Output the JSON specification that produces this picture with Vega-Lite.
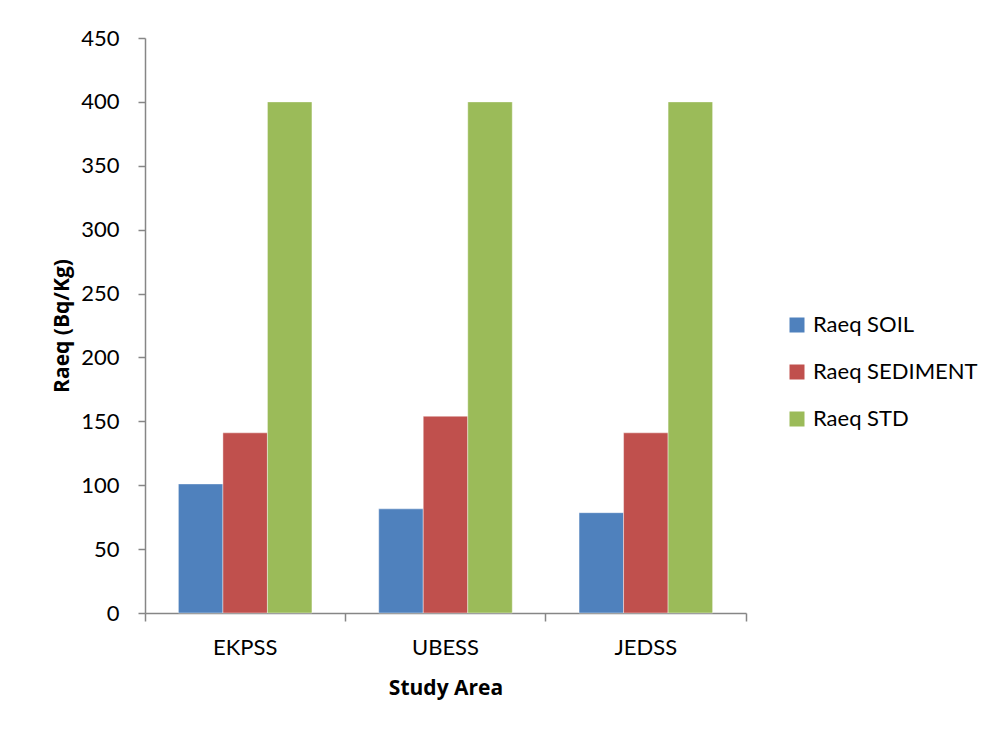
{
  "$schema": "https://vega.github.io/schema/vega-lite/v6.json",
  "width": 601,
  "height": 575,
  "autosize": {"type": "none"},
  "padding": {"left": 145, "top": 38, "right": 256, "bottom": 121},
  "background": "white",
  "config": {
    "font": "Lato",
    "view": {"stroke": null},
    "axis": {"labelColor": "black", "titleColor": "black", "domainColor": "#868686", "tickColor": "#868686", "domainWidth": 1.5, "tickWidth": 1.5}
  },
  "data": {
    "values": [
      {"area": "EKPSS", "series": "Raeq SOIL", "value": 101},
      {"area": "EKPSS", "series": "Raeq SEDIMENT", "value": 141},
      {"area": "EKPSS", "series": "Raeq STD", "value": 400},
      {"area": "UBESS", "series": "Raeq SOIL", "value": 81.5},
      {"area": "UBESS", "series": "Raeq SEDIMENT", "value": 154},
      {"area": "UBESS", "series": "Raeq STD", "value": 400},
      {"area": "JEDSS", "series": "Raeq SOIL", "value": 78.5},
      {"area": "JEDSS", "series": "Raeq SEDIMENT", "value": 141},
      {"area": "JEDSS", "series": "Raeq STD", "value": 400}
    ]
  },
  "mark": {"type": "bar", "stroke": "white", "strokeWidth": 0.6, "strokeOpacity": 0.7},
  "encoding": {
    "x": {
      "field": "area",
      "type": "nominal",
      "sort": ["EKPSS", "UBESS", "JEDSS"],
      "scale": {"paddingInner": 0, "paddingOuter": 0},
      "axis": {
        "title": "Study Area",
        "titleFont": "Open Sans",
        "titleFontSize": 21,
        "titleFontWeight": "bold",
        "titlePadding": 19,
        "labelAngle": 0,
        "labelFontSize": 22,
        "labelPadding": 16,
        "tickSize": 8,
        "bandPosition": 1,
        "tickExtra": true
      }
    },
    "xOffset": {
      "field": "series",
      "sort": ["Raeq SOIL", "Raeq SEDIMENT", "Raeq STD"],
      "scale": {"paddingInner": 0, "paddingOuter": 0.75}
    },
    "y": {
      "field": "value",
      "type": "quantitative",
      "scale": {"domain": [0, 450], "nice": false},
      "axis": {
        "title": "Raeq (Bq/Kg)",
        "titleFont": "Open Sans",
        "titleFontSize": 21,
        "titleFontWeight": "bold",
        "titlePadding": 8,
        "values": [0, 50, 100, 150, 200, 250, 300, 350, 400, 450],
        "grid": false,
        "labelFontSize": 22,
        "labelPadding": 19,
        "tickSize": 7
      }
    },
    "color": {
      "field": "series",
      "type": "nominal",
      "sort": ["Raeq SOIL", "Raeq SEDIMENT", "Raeq STD"],
      "scale": {"domain": ["Raeq SOIL", "Raeq SEDIMENT", "Raeq STD"], "range": ["#4F81BD", "#C0504D", "#9BBB59"]},
      "legend": {
        "title": null,
        "orient": "none",
        "legendX": 641,
        "legendY": 276,
        "symbolType": "square",
        "symbolSize": 225,
        "symbolStrokeWidth": 0,
        "labelFontSize": 22,
        "labelColor": "black",
        "labelOffset": 5,
        "labelLimit": 0,
        "rowPadding": 25
      }
    }
  }
}
